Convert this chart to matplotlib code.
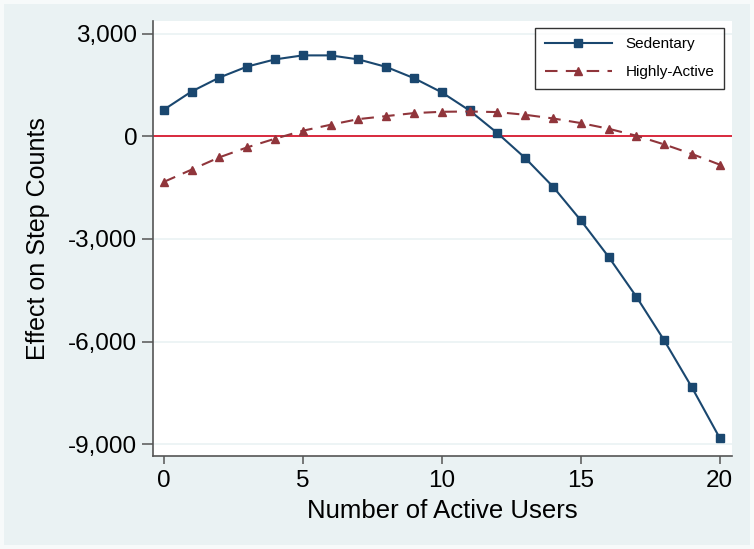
import matplotlib
matplotlib.use("Agg")
import matplotlib.pyplot as plt
from matplotlib.patches import Rectangle
from matplotlib.ticker import FuncFormatter

# data
active_users = list(range(21))
sedentary = [773, 1306, 1714, 2035, 2245, 2362, 2362, 2245, 2026, 1697, 1283,
             752, 93, -636, -1472, -2455, -3522, -4688, -5962, -7341, -8819]
highly_active = [-1336, -977, -617, -326, -73, 160, 335, 500, 588, 676, 714,
                 723, 705, 627, 520, 385, 219, 15, -239, -519, -831]
x_ticks = [0, 5, 10, 15, 20]
y_ticks = [3000, 0, -3000, -6000, -9000]

plt.rcParams['font.family'] = ['Liberation Sans', 'DejaVu Sans']

bg = '#EAF2F3'
navy = '#1A476F'
maroon = '#90353B'

fig = plt.figure(figsize=(7.54, 5.49), dpi=100, facecolor='#F7FAFA')
# graph region (slightly inset, as in Stata's s2color scheme)
fig.patches.append(Rectangle((4 / 754, 4 / 549), 746 / 754, 541 / 549,
                             transform=fig.transFigure, facecolor=bg,
                             edgecolor='none', zorder=-1))

ax = fig.add_axes([152.6 / 754, 93 / 549, (731.7 - 152.6) / 754, (456 - 21) / 549])
ax.set_facecolor('white')

for y in y_ticks:
    ax.axhline(y, color=bg, lw=1.2, zorder=0)
ax.axhline(0, color='#D7192F', lw=1.3, zorder=1)

ax.plot(active_users, sedentary, color=navy, lw=1.5, marker='s', markersize=5.2,
        label='Sedentary', zorder=3)
ax.plot(active_users, highly_active, color=maroon, lw=1.5, ls=(0, (6, 4)), marker='^',
        markersize=6.3, label='Highly-Active', zorder=3)

ax.set_xlim(-0.4, 20.43)
ax.set_ylim(-9344, 3367)
ax.set_xticks(x_ticks)
ax.set_yticks(y_ticks)
ax.yaxis.set_major_formatter(FuncFormatter(lambda v, p: f'{int(v):,}'))

for s in ['top', 'right']:
    ax.spines[s].set_visible(False)
for s in ['left', 'bottom']:
    ax.spines[s].set_color('#555555')
    ax.spines[s].set_linewidth(1.2)
ax.tick_params(axis='both', colors='#555555', labelcolor='black', labelsize=17.5,
               width=1.1)
ax.tick_params(axis='x', length=6, pad=4)
ax.tick_params(axis='y', length=8, pad=3)

ax.set_xlabel('Number of Active Users', fontsize=18.5, labelpad=5)
ax.set_ylabel('Effect on Step Counts', fontsize=18, labelpad=13)

leg = ax.legend(loc='upper right', bbox_to_anchor=(0.9875, 0.985), fontsize=11,
                handlelength=4.4, frameon=True, fancybox=False, borderpad=0.65,
                labelspacing=0.9, handletextpad=0.9, borderaxespad=0)
leg.get_frame().set_edgecolor('black')
leg.get_frame().set_linewidth(1.0)

fig.savefig('out.png', dpi=100, facecolor=fig.get_facecolor())
